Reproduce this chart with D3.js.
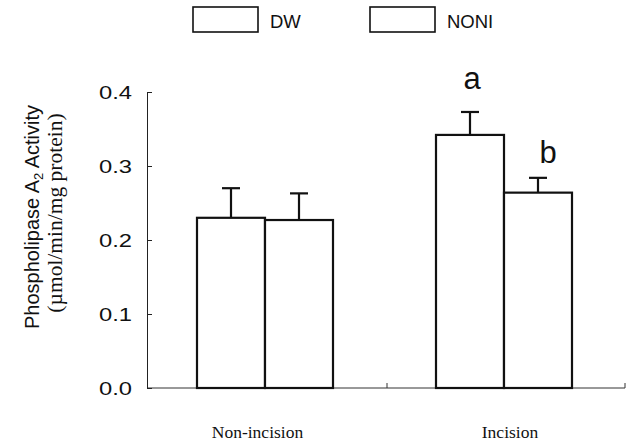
<!DOCTYPE html>
<html>
<head>
<meta charset="utf-8">
<script src="https://cdn.jsdelivr.net/npm/d3@7/dist/d3.min.js"></script>
<style>
  html, body { margin: 0; padding: 0; background: #fff; }
  svg { display: block; }
</style>
</head>
<body>
<svg id="chart" width="627" height="444"></svg>
<script>
// ---- data ----
const categories = ["Non-incision", "Incision"];
const series = ["DW", "NONI"];
const dwValues = [0.230, 0.342];
const noniValues = [0.227, 0.264];
const dwErrors = [0.040, 0.031];
const noniErrors = [0.036, 0.020];
const sigLabels = [["", ""], ["a", "b"]];
const yTicks = [0.0, 0.1, 0.2, 0.3, 0.4];

const svg = d3.select("#chart");
const axisX = 147, baseY = 388, topY = 92;

const y = d3.scaleLinear().domain([0, 0.4]).range([baseY, topY]);
const xCat = d3.scalePoint().domain(categories).range([265, 504]);
const xSer = d3.scaleBand().domain(series).range([-68, 68]).padding(0);

const rows = [];
categories.forEach((c, i) => {
  rows.push({cat: c, ser: "DW", v: dwValues[i], e: dwErrors[i], sig: sigLabels[i][0]});
  rows.push({cat: c, ser: "NONI", v: noniValues[i], e: noniErrors[i], sig: sigLabels[i][1]});
});

const lineCol = "#111";

// x baseline
svg.append("line")
  .attr("x1", axisX).attr("x2", 625)
  .attr("y1", baseY).attr("y2", baseY)
  .attr("stroke", "#333").attr("stroke-width", 1);
svg.append("line")
  .attr("x1", 625).attr("x2", 625)
  .attr("y1", baseY).attr("y2", baseY - 5)
  .attr("stroke", "#333").attr("stroke-width", 1);
const midX = (xCat(categories[0]) + xCat(categories[1])) / 2 + 2.5;
svg.append("line")
  .attr("x1", midX).attr("x2", midX)
  .attr("y1", baseY).attr("y2", baseY - 5)
  .attr("stroke", "#333").attr("stroke-width", 1);

// y axis
const yAxis = d3.axisLeft(y)
  .tickValues(yTicks)
  .tickFormat(d3.format(".1f"))
  .tickSizeInner(-5)
  .tickSizeOuter(0)
  .tickPadding(15);
const gy = svg.append("g").attr("transform", `translate(${axisX},0)`).call(yAxis);
gy.select(".domain").attr("stroke", "#222").attr("stroke-width", 1);
gy.selectAll(".tick line").attr("stroke", "#222");
gy.selectAll(".tick text")
  .attr("font-family", "'Liberation Sans', Arial, sans-serif")
  .attr("font-size", 19)
  .attr("fill", "#111")
  .attr("x", 0).attr("dy", "0.36em")
  .attr("transform", "translate(-15,0) scale(1.25,1)");

// error bars
const capW = 18;
const eb = svg.append("g");
rows.forEach(r => {
  const cx = xCat(r.cat) + xSer(r.ser) + xSer.bandwidth() / 2;
  eb.append("line")
    .attr("x1", cx).attr("x2", cx)
    .attr("y1", y(r.v)).attr("y2", y(r.v + r.e))
    .attr("stroke", lineCol).attr("stroke-width", 2.2);
  eb.append("line")
    .attr("x1", cx - capW / 2).attr("x2", cx + capW / 2)
    .attr("y1", y(r.v + r.e)).attr("y2", y(r.v + r.e))
    .attr("stroke", lineCol).attr("stroke-width", 2.2);
});

// bars
svg.append("g").selectAll("rect").data(rows).join("rect")
  .attr("x", d => xCat(d.cat) + xSer(d.ser))
  .attr("y", d => y(d.v))
  .attr("width", xSer.bandwidth())
  .attr("height", d => y(0) - y(d.v))
  .attr("fill", "#fff")
  .attr("stroke", lineCol)
  .attr("stroke-width", 2.2);

// significance letters
svg.append("g").selectAll("text").data(rows.filter(r => r.sig)).join("text")
  .attr("x", d => xCat(d.cat) + xSer(d.ser) + xSer.bandwidth() / 2 + (d.ser === "NONI" ? 10 : 2))
  .attr("y", d => y(d.v + d.e) - (d.ser === "NONI" ? 15 : 23))
  .attr("text-anchor", "middle")
  .attr("font-family", "'Liberation Sans', Arial, sans-serif")
  .attr("font-size", 31)
  .attr("fill", "#111")
  .text(d => d.sig);

// category labels
const catShift = [-7.5, 6];
svg.append("g").selectAll("text").data(categories).join("text")
  .attr("x", (d, i) => xCat(d) + catShift[i])
  .attr("y", 438)
  .attr("text-anchor", "middle")
  .attr("font-family", "'Liberation Serif', 'Times New Roman', serif")
  .attr("font-size", 17.5)
  .attr("fill", "#111")
  .text(d => d);

// y-axis titles
const t1 = svg.append("text")
  .attr("transform", "translate(39,217) rotate(-90)")
  .attr("text-anchor", "middle")
  .attr("font-family", "'Liberation Sans', Arial, sans-serif")
  .attr("font-size", 20)
  .attr("fill", "#111");
t1.append("tspan").text("Phospholipase A");
t1.append("tspan").attr("font-size", 13).attr("dy", 4).text("2");
t1.append("tspan").attr("dy", -4).text(" Activity");

svg.append("text")
  .attr("transform", "translate(62,213) rotate(-90)")
  .attr("text-anchor", "middle")
  .attr("font-family", "'Liberation Serif', 'Times New Roman', serif")
  .attr("font-size", 21.5)
  .attr("fill", "#111")
  .text("(\u00b5mol/min/mg protein)");

// legend
const legX = [193, 370];
const lg = svg.append("g");
series.forEach((s, i) => {
  lg.append("rect")
    .attr("x", legX[i]).attr("y", 7)
    .attr("width", 65).attr("height", 25)
    .attr("fill", "#fff").attr("stroke", lineCol).attr("stroke-width", 1.6);
  lg.append("text")
    .attr("x", legX[i] + 77).attr("y", 28)
    .attr("font-family", "'Liberation Sans', Arial, sans-serif")
    .attr("font-size", 18.5)
    .attr("fill", "#111")
    .text(s);
});
</script>
</body>
</html>
